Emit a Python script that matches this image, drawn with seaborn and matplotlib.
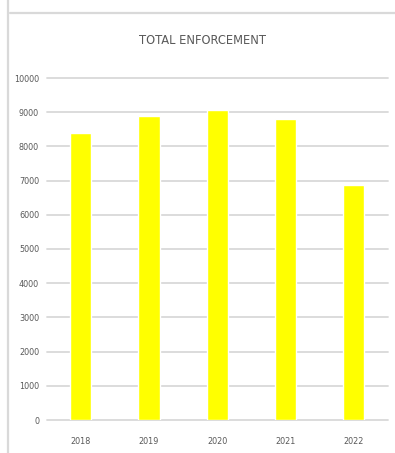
import pandas as pd
import numpy as np
import matplotlib.pyplot as plt
import seaborn as sns
from matplotlib.lines import Line2D

# data
years = ['2018', '2019', '2020', '2021', '2022']
enforcement = [8380, 8890, 9060, 8790, 6860]
y_ticks = [0, 1000, 2000, 3000, 4000, 5000, 6000, 7000, 8000, 9000, 10000]

title = 'TOTAL ENFORCEMENT'


def main():
    sns.set_style('white')
    # narrow face, close to the original's look
    plt.rcParams['font.family'] = ['DejaVu Sans']
    plt.rcParams['font.stretch'] = 'condensed'

    df = pd.DataFrame({'Year': years, 'Total': enforcement})

    fig = plt.figure(figsize=(3.95, 4.53), dpi=100)
    ax = fig.add_axes([46.7 / 395, 1 - 420 / 453, 341 / 395, (420 - 78) / 453])

    sns.barplot(data=df, x='Year', y='Total', color='#FFFF00', saturation=1,
                width=0.31, ax=ax)

    ax.set_ylim(0, 10000)
    ax.set_xlim(-0.5, len(years) - 0.5)
    ax.set_yticks(y_ticks)
    ax.set_yticklabels([str(t) for t in y_ticks])
    ax.set_xlabel('')
    ax.set_ylabel('')

    ax.grid(axis='y', color='#d9d9d9', linewidth=1.3)
    ax.set_axisbelow(True)
    for line in ax.get_ygridlines():
        line.set_clip_on(False)
    for s in ax.spines.values():
        s.set_visible(False)

    ax.tick_params(axis='y', length=0, pad=5.5, labelsize=6.5, labelcolor='#595959')
    ax.tick_params(axis='x', length=0, pad=12, labelsize=6.5, labelcolor='#595959')

    fig.text(203 / 395, 1 - 41 / 453, title, ha='center', va='center',
             fontsize=9.2, color='#595959')

    # chart frame lines
    fig.add_artist(Line2D([8 / 395, 8 / 395], [0, 1], color='#d9d9d9',
                          linewidth=1.6, transform=fig.transFigure))
    fig.add_artist(Line2D([10 / 395, 1], [1 - 13 / 453, 1 - 13 / 453],
                          color='#d9d9d9', linewidth=1.6, transform=fig.transFigure))

    fig.savefig('out.png', dpi=100)
    plt.close(fig)


if __name__ == "__main__":
    main()
